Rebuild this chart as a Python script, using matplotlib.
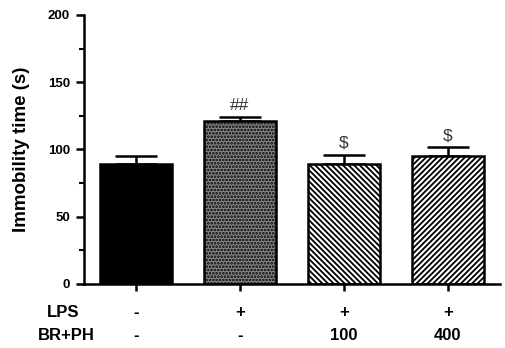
import matplotlib
matplotlib.use('Agg')
import matplotlib.pyplot as plt

plt.rcParams['font.family'] = 'Liberation Sans'
plt.rcParams['font.weight'] = 'bold'
plt.rcParams['hatch.linewidth'] = 1.3

groups = ['ctrl', 'LPS', 'LPS+100', 'LPS+400']
means = [89, 121.5, 89, 95]
errors = [6.5, 2.5, 7, 6.5]
marks = ['', '##', '$', '$']
lps_row = ['-', '+', '+', '+']
brph_row = ['-', '-', '100', '400']

faces = ['black', '#888888', 'white', 'white']
hatches = [None, '.....', '\\\\\\\\\\\\', '//////']

fig = plt.figure(figsize=(5.05, 3.48), dpi=100)
ax = fig.add_axes([0.166, 0.184, 0.824, 0.773])

x = list(range(len(groups)))
for i in x:
    ax.bar(i, means[i], width=0.69, color=faces[i], edgecolor='black',
           linewidth=1.8, hatch=hatches[i], zorder=2)
    ax.errorbar(i, means[i], yerr=[[0], [errors[i]]], fmt='none', ecolor='black',
                elinewidth=1.8, capsize=15, capthick=1.8, zorder=1)
    ax.text(i, means[i] + errors[i] + 3, marks[i], ha='center', va='bottom',
            fontsize=12.5, fontweight='normal', color='#333333')

ax.set_xlim(-0.5, 3.5)
ax.set_ylim(0, 200)
ax.set_yticks([0, 50, 100, 150, 200])
ax.set_yticks([25, 75, 125, 175], minor=True)
ax.set_xticks(x)
ax.set_xticklabels([])
ax.tick_params(axis='y', which='major', length=6, width=1.8, labelsize=9.5, pad=4)
ax.tick_params(axis='y', which='minor', length=3.5, width=1.5)
ax.tick_params(axis='x', length=5, width=1.8)
for s in ['top', 'right']:
    ax.spines[s].set_visible(False)
for s in ['left', 'bottom']:
    ax.spines[s].set_linewidth(1.8)

ax.set_ylabel('Immobility time (s)', fontsize=13.5, fontweight='bold', labelpad=13)

# treatment table under the axis
trans = ax.get_xaxis_transform()
ax.text(-0.70, -0.105, 'LPS', transform=trans, ha='center', va='center', fontsize=12)
ax.text(-0.67, -0.19, 'BR+PH', transform=trans, ha='center', va='center', fontsize=12)
for i in x:
    ax.text(i, -0.105, lps_row[i], transform=trans, ha='center', va='center', fontsize=12)
    ax.text(i, -0.19, brph_row[i], transform=trans, ha='center', va='center', fontsize=12)

fig.savefig('out.png', dpi=100)
